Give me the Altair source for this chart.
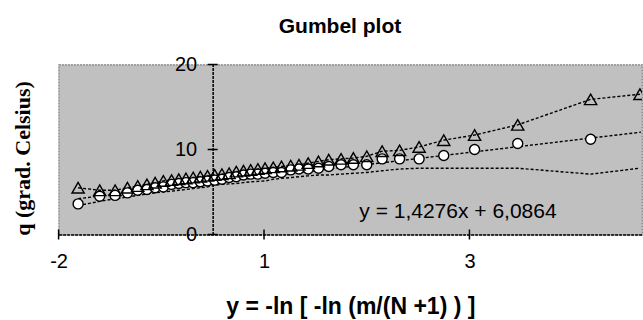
import altair as alt
import pandas as pd

# ---------------- data ----------------
# reduced variate y = -ln(-ln(m/(N+1))) of each ranked point
x_pos = [-1.31, -1.10, -0.95, -0.83, -0.73, -0.64, -0.56, -0.48, -0.40, -0.33,
         -0.26, -0.19, -0.12, -0.05, 0.02, 0.09, 0.16, 0.23, 0.30, 0.37,
         0.44, 0.51, 0.59, 0.67, 0.76, 0.84, 0.93, 1.03, 1.13, 1.25,
         1.37, 1.50, 1.65, 1.82, 2.01, 2.25, 2.55, 2.97, 3.68]
x_extra = [4.16]

# circles (observed q)
q_circle = [3.6, 4.5, 4.6, 4.9, 5.2, 5.3, 5.5, 5.6, 5.9, 6.0,
            6.1, 6.1, 6.2, 6.3, 6.4, 6.5, 6.7, 6.8, 7.0, 7.1,
            7.1, 7.2, 7.3, 7.3, 7.6, 7.7, 7.7, 7.8, 8.0, 8.2,
            8.2, 8.2, 8.9, 8.9, 8.9, 9.3, 10.0, 10.7, 11.2]

# triangles (upper series), one more point at the right edge
q_triangle = [5.5, 5.2, 5.2, 5.5, 5.7, 5.9, 6.1, 6.3, 6.4, 6.5,
              6.6, 6.7, 6.8, 6.9, 7.0, 7.1, 7.2, 7.4, 7.5, 7.6,
              7.7, 7.8, 7.9, 8.0, 8.1, 8.2, 8.4, 8.6, 8.8, 8.9,
              9.0, 9.2, 9.8, 9.9, 10.3, 11.1, 11.7, 12.9, 15.9, 16.5]

# lower dashed line without markers
q_lower = [3.4, 3.9, 4.2, 4.4, 4.6, 4.75, 4.9, 5.0, 5.1, 5.2,
           5.3, 5.4, 5.5, 5.6, 5.8, 5.9, 5.95, 6.0, 6.1, 6.2,
           6.25, 6.3, 6.5, 6.6, 6.7, 6.8, 6.9, 7.0, 7.0, 7.1,
           7.2, 7.3, 7.5, 7.7, 7.8, 7.8, 7.8, 7.8, 7.1, 7.8]

# linear trendline of the circles
trend_slope = [1.4276]
trend_intercept = [6.0864]
trend_x = [-1.31, 4.17]
trend_label = ["y = 1,4276x + 6,0864"]
chart_title = ["Gumbel plot"]

# axes
x_domain = [-1.5, 4.18]
y_domain = [0, 20]
x_tick_values = [-1.5, 0.5, 2.5]
x_tick_labels = ["-2", "1", "3"]
y_tick_values = [0, 10, 20]

# ---------------- layout ----------------
PLOT_LEFT, PLOT_TOP = 58.6, 64.5
W, H = 583.4, 170.0
x0_px = W * (0 - x_domain[0]) / (x_domain[1] - x_domain[0])

SANS = "Liberation Sans"
SERIF = "Liberation Serif"

df_circle = pd.DataFrame({"x": x_pos, "q": q_circle})
df_tri = pd.DataFrame({"x": x_pos + x_extra, "q": q_triangle})
df_low = pd.DataFrame({"x": x_pos + x_extra, "q": q_lower})
df_trend = pd.DataFrame({"x": trend_x})
df_xt = pd.DataFrame({"x": x_tick_values})
df_yt = pd.DataFrame({"x": [0.0] * len(y_tick_values), "q": y_tick_values})

label_expr = ""
for v, lab in zip(x_tick_values, x_tick_labels):
    label_expr += f"datum.value == {v} ? '{lab}' : "
label_expr += "''"

x_axis = alt.Axis(
    values=x_tick_values, labelExpr=label_expr, ticks=False, labelFlush=False,
    domainColor="black", domainWidth=1.5, domainDash=[3, 1],
    labelFont=SANS, labelFontSize=20, labelColor="black", labelPadding=17,
    title="y = -ln [ -ln (m/(N +1) ) ]", titleFont=SANS, titleFontSize=23,
    titleFontWeight="bold", titleColor="black", titleY=79,
    titleBaseline="alphabetic", grid=False,
)
y_axis = alt.Axis(
    values=y_tick_values, ticks=False, offset=-x0_px, labelFlush=False,
    domainColor="black", domainWidth=1.5, domainDash=[3, 1],
    labelFont=SANS, labelFontSize=20, labelColor="black", labelPadding=16,
    title="q   (grad.  Celsius)", titleFont=SERIF, titleFontSize=22,
    titleFontWeight="bold", titleColor="black", titleAngle=270,
    titleX=22 - (PLOT_LEFT + x0_px), titleY=158 - PLOT_TOP,
    titleAlign="center", titleBaseline="middle", grid=False,
)

def X(field="x"):
    return alt.X(field, type="quantitative",
                 scale=alt.Scale(domain=x_domain, nice=False, zero=False),
                 axis=x_axis)

def Y(field="q"):
    return alt.Y(field, type="quantitative",
                 scale=alt.Scale(domain=y_domain, nice=False, zero=False),
                 axis=y_axis)

dash = [3, 2]
line_style = dict(color="black", strokeWidth=1.4, strokeDash=dash, clip=True)

low_line = alt.Chart(df_low).mark_line(**line_style).encode(x=X(), y=Y())
tri_line = alt.Chart(df_tri).mark_line(**line_style).encode(x=X(), y=Y())
trend = (
    alt.Chart(df_trend)
    .transform_calculate(q=f"{trend_slope[0]} * datum.x + {trend_intercept[0]}")
    .mark_line(**line_style)
    .encode(x=X(), y=Y())
)
circles = alt.Chart(df_circle).mark_point(
    shape="circle", filled=True, fill="white", stroke="black",
    strokeWidth=1.4, size=100, opacity=1, clip=True,
).encode(x=X(), y=Y())
triangles = alt.Chart(df_tri).mark_point(
    shape="triangle-up", filled=False, stroke="black", fillOpacity=0,
    strokeWidth=1.4, size=150, opacity=1, clip=True,
).encode(x=X(), y=Y())

x_ticks = alt.Chart(df_xt).mark_rule(color="black", strokeWidth=1.5).encode(
    x=X(), y=alt.value(H - 5), y2=alt.value(H + 5)
)
y_ticks = alt.Chart(df_yt).mark_rule(
    color="black", strokeWidth=1.5, xOffset=-5, x2Offset=5
).encode(x=X(), x2=alt.X2("x"), y=Y())

eq_text = alt.Chart(pd.DataFrame({"t": trend_label})).mark_text(
    font=SANS, fontSize=21, color="black", align="left", baseline="alphabetic"
).encode(text="t:N", x=alt.value(359.3 - PLOT_LEFT), y=alt.value(218.3 - PLOT_TOP))

title_text = alt.Chart(pd.DataFrame({"t": chart_title})).mark_text(
    font=SANS, fontSize=21, fontWeight="bold", color="black",
    align="center", baseline="alphabetic", clip=False,
).encode(text="t:N", x=alt.value(340 - PLOT_LEFT), y=alt.value(33 - PLOT_TOP))

chart = (
    alt.layer(low_line, tri_line, trend, circles, triangles, x_ticks, y_ticks,
              eq_text, title_text)
    .properties(
        width=W, height=H,
        autosize=alt.AutoSizeParams(type="none"),
        padding={"left": PLOT_LEFT, "top": PLOT_TOP, "right": 643 - PLOT_LEFT - W,
                 "bottom": 320 - PLOT_TOP - H},
        background="white",
    )
    .configure_view(fill="#C0C0C0", stroke="#808080", strokeWidth=1.2,
                    strokeDash=[2, 1])
)

chart.save("out.html", embed_options={"renderer": "svg", "actions": False})
